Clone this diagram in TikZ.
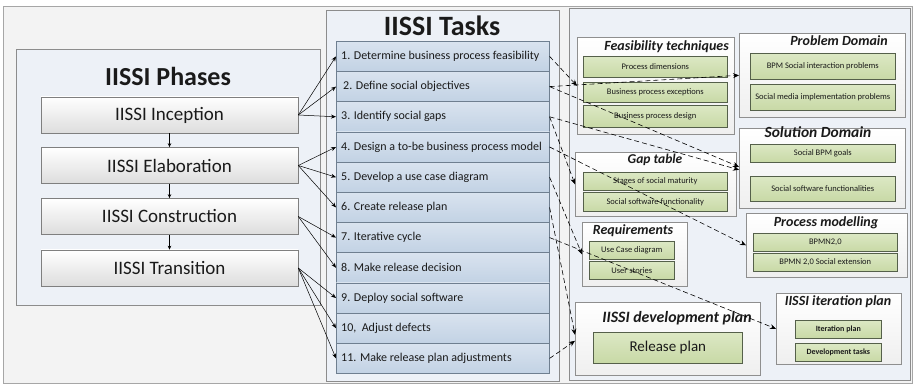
\documentclass[tikz,border=0pt]{standalone}
\usepackage{fontspec}
\setmainfont{Carlito}
\usetikzlibrary{arrows.meta,calc}
\definecolor{bgfill}{HTML}{F3F3F3}
\definecolor{frameline}{HTML}{A6A6A6}
\definecolor{panelfill}{HTML}{EDF1F7}
\definecolor{panelline}{HTML}{8C8C8C}
\definecolor{phaseline}{HTML}{7F7F7F}
\definecolor{phasebot}{HTML}{DDDDDD}
\definecolor{taskline}{HTML}{6F7F90}
\definecolor{tasktop}{HTML}{D9E3EF}
\definecolor{taskbot}{HTML}{C2D2E4}
\definecolor{groupline}{HTML}{8F8F8F}
\definecolor{groupbot}{HTML}{EFEFEF}
\definecolor{greenline}{HTML}{55604A}
\definecolor{greentop}{HTML}{DCE8C4}
\definecolor{greenbot}{HTML}{C8D9A6}
\definecolor{txt}{HTML}{1A1A1A}
\newcommand\bx[7]{\node[#6,anchor=north west,minimum width={#4pt-#2pt},minimum height={#5pt-#3pt}] (#1) at (#2,#3) {#7};}
\tikzset{
 panel/.style={draw=panelline, fill=panelfill, line width=0.8pt},
 phasebox/.style={draw=phaseline, top color=white, bottom color=phasebot, font=\fontsize{19}{22}\selectfont, text=txt, inner sep=0pt, line width=0.6pt, minimum width=257pt, minimum height=36pt},
 taskbox/.style={draw=taskline, top color=tasktop, bottom color=taskbot, inner sep=0pt, minimum width=213pt, minimum height=30.2pt, anchor=north west, line width=0.6pt},
 tasktext/.style={font=\fontsize{12}{14}\selectfont, text=txt, inner sep=0pt, anchor=west},
 group/.style={draw=groupline, top color=white, bottom color=groupbot, line width=0.6pt, inner sep=0pt},
 gitem/.style={draw=greenline, top color=greentop, bottom color=greenbot, font=\fontsize{8.5}{10}\selectfont, text=txt, inner sep=0pt, line width=0.6pt},
 gtitle/.style={font=\bfseries\itshape\fontsize{14}{16}\selectfont, text=txt, inner sep=0pt},
 conn/.style={-{Stealth[length=5pt,width=4pt]}, line width=0.5pt, draw=black},
 dconn/.style={-{Stealth[length=6pt,width=5pt]}, line width=0.6pt, draw=black, dash pattern=on 5pt off 3pt},
}
\begin{document}
\begin{tikzpicture}[x=1pt,y=-1pt]
\useasboundingbox[fill=white] (0,0) rectangle (914,387);
\draw[draw=frameline, fill=bgfill, line width=0.8pt] (3,6) rectangle (912,383);
% panels
\draw[panel] (16,49) rectangle (320,305);
\draw[panel] (326,10) rectangle (559,381);
\draw[panel] (569,8) rectangle (910,380);
% phases
\node[font=\bfseries\fontsize{26}{30}\selectfont, text=txt] (phtitle) at (168,76) {IISSI Phases};
\node[phasebox] (ph1) at (169.5,115) {IISSI Inception};
\node[phasebox] (ph2) at (169.5,165.5) {IISSI Elaboration};
\node[phasebox] (ph3) at (169.5,216.5) {IISSI Construction};
\node[phasebox] (ph4) at (169.5,268) {IISSI Transition};
\draw[-{Stealth[length=4pt,width=3.5pt]}, line width=0.6pt] (ph1) -- (ph2);
\draw[-{Stealth[length=4pt,width=3.5pt]}, line width=0.6pt] (ph2) -- (ph3);
\draw[-{Stealth[length=4pt,width=3.5pt]}, line width=0.6pt] (ph3) -- (ph4);
% tasks
\node[font=\bfseries\fontsize{28}{32}\selectfont, text=txt] (tktitle) at (442,26) {IISSI Tasks};
\foreach \i/\t/\dx in {1/{1. Determine business process feasibility}/5,
  2/{2. Define social objectives}/7,
  3/{3. Identify social gaps}/5,
  4/{4. Design a to-be business process model}/5,
  5/{5. Develop a use case diagram}/5,
  6/{6. Create release plan}/5,
  7/{7. Iterative cycle}/5,
  8/{8. Make release decision}/5,
  9/{9. Deploy social software}/5,
  10/{10,\ \ Adjust defects}/5,
  11/{11. Make release plan adjustments}/5}{
  \node[taskbox] (t\i) at (336,{41+(\i-1)*30.2}) {};
  \node[tasktext] (tt\i) at ($(t\i.west)+(\dx,0)$) {\t};
}
% Feasibility techniques
\bx{feas}{577}{37}{734}{134}{group}{}
\node[gtitle, anchor=east] (feast) at (729,47) {Feasibility techniques};
\bx{f1}{583}{56}{727}{77}{gitem}{Process dimensions}
\bx{f2}{583}{82}{727}{102}{gitem}{Business process exceptions}
\bx{f3}{583}{105}{727}{127}{gitem}{Business process design}
% Problem Domain
\bx{prob}{739}{33}{905}{117}{group}{}
\node[gtitle, anchor=east] (probt) at (888,41) {Problem Domain};
\bx{p1}{750}{53}{895}{79}{gitem}{BPM Social interaction problems}
\bx{p2}{750}{84}{895}{110}{gitem}{Social media implementation problems}
% Solution Domain
\bx{sol}{739}{128}{905}{208}{group}{}
\node[gtitle, font=\bfseries\itshape\fontsize{15.5}{17}\selectfont] (solt) at (818,132) {Solution Domain};
\bx{s1}{750}{144}{895}{162}{gitem}{Social BPM goals}
\bx{s2}{750}{176}{895}{201}{gitem}{Social software functionalities}
% Gap table
\bx{gap}{575}{152}{736}{216}{group}{}
\node[gtitle, font=\bfseries\itshape\fontsize{13.5}{15}\selectfont] (gapt) at (655,160) {Gap table};
\bx{g1}{583}{172}{727}{190}{gitem}{Stages of social maturity}
\bx{g2}{583}{192}{727}{211}{gitem}{Social software functionality}
% Requirements
\bx{req}{582}{222}{687}{286}{group}{}
\node[gtitle] (reqt) at (633,231) {Requirements};
\bx{r1}{589}{241}{674}{259}{gitem}{Use Case diagram}
\bx{r2}{589}{261}{674}{279}{gitem}{User stories}
% Process modelling
\bx{pm}{746}{213}{907}{277}{group}{}
\node[gtitle] (pmt) at (826,223) {Process modelling};
\bx{m1}{753}{233}{897}{251}{gitem}{BPMN2,0}
\bx{m2}{753}{253}{897}{271}{gitem}{BPMN 2,0 Social extension}
% IISSI development plan
\bx{dev}{575}{302}{760}{375}{group}{}
\node[gtitle, font=\bfseries\itshape\fontsize{15.8}{18}\selectfont] (devt) at (677,318) {IISSI development plan};
\bx{d1}{593}{332}{742}{363}{gitem,font=\fontsize{15}{18}\selectfont}{Release plan}
% IISSI iteration plan
\bx{it}{776}{293}{901}{364}{group}{}
\node[gtitle] (itt) at (838,302) {IISSI iteration plan};
\bx{i1}{795}{320}{881}{338}{gitem,font=\bfseries\fontsize{8}{10}\selectfont}{Iteration plan}
\bx{i2}{795}{343}{881}{361}{gitem,font=\bfseries\fontsize{8}{10}\selectfont}{Development tasks}
% phase -> task connectors
\foreach \p/\t in {1/1,1/2,1/3,2/4,2/5,2/6,3/7,3/8,4/9,4/10,4/11}{
  \draw[conn] (ph\p.east) -- (t\t.west);
}
% task -> artefact dashed connectors
\draw[dconn] (t1.east) -- (feas.west);
\draw[dconn] (t2.east) -- (prob.west);
\draw[dconn] (t2.east) -- ($(sol.west)+(0,-1.5)$);
\draw[dconn] (t3.east) -- ($(sol.west)+(0,1.5)$);
\draw[dconn] (t3.east) -- (gap.west);
\draw[dconn] (t4.east) -- (pm.west);
\draw[dconn] (t5.east) -- (req.west);
\draw[dconn] (t6.east) -- ($(dev.west)+(0,-4)$);
\draw[dconn] (t7.east) -- (it.west);
\draw[dconn] (t11.east) -- ($(dev.west)+(0,2)$);
\end{tikzpicture}
\end{document}
